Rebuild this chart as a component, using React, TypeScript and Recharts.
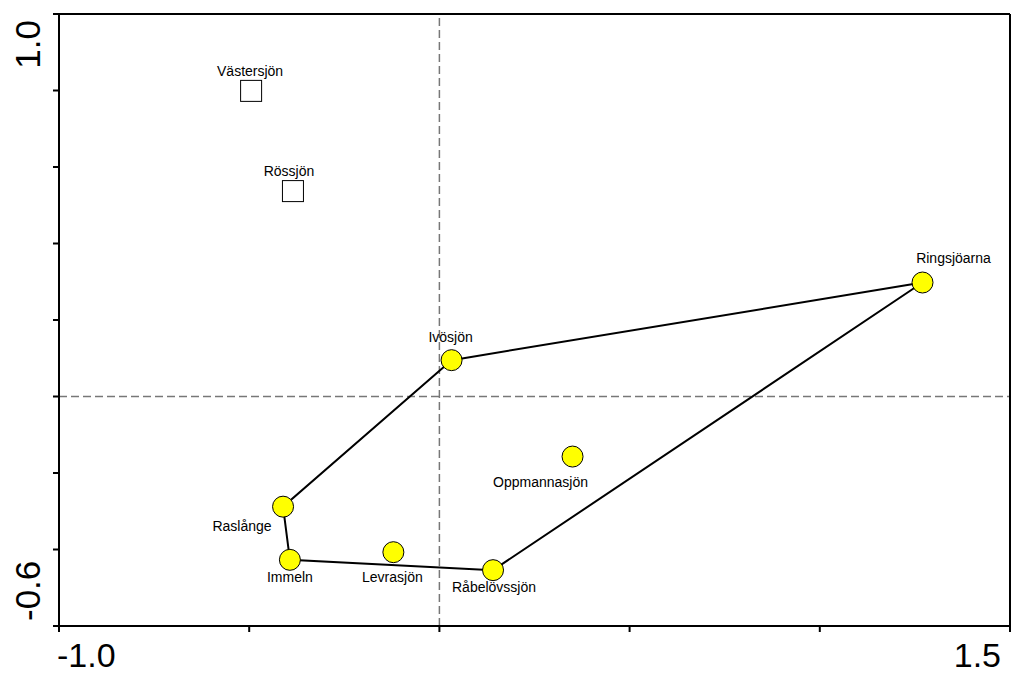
import React from "react";
import {
  ScatterChart,
  Scatter,
  XAxis,
  YAxis,
  ReferenceLine,
} from "recharts";

// lakes shown as yellow circles
const lakeNames = [
  "Ringsjöarna",
  "Ivösjön",
  "Oppmannasjön",
  "Raslånge",
  "Immeln",
  "Levrasjön",
  "Råbelövssjön",
];
const lakeX = [1.27, 0.032, 0.35, -0.411, -0.393, -0.121, 0.141];
const lakeY = [0.298, 0.095, -0.157, -0.288, -0.427, -0.407, -0.454];

// reference lakes shown as open squares
const refNames = ["Västersjön", "Rössjön"];
const refX = [-0.495, -0.385];
const refY = [0.799, 0.537];

// outline drawn around the circle group
const hullOrder = ["Ivösjön", "Ringsjöarna", "Råbelövssjön", "Immeln", "Raslånge", "Ivösjön"];

const xTicks = [-1.0, -0.5, 0, 0.5, 1.0, 1.5];
const yTicks = [-0.6, -0.4, -0.2, 0, 0.2, 0.4, 0.6, 0.8, 1.0];

const lakes = lakeNames.map((name, i) => ({ name, x: lakeX[i], y: lakeY[i] }));
const refs = refNames.map((name, i) => ({ name, x: refX[i], y: refY[i] }));
const hull = hullOrder.map((n) => lakes.find((l) => l.name === n)!);

const FONT = "'Liberation Sans', Arial, sans-serif";

// label placement relative to the marker centre
const labelOffset: Record<string, [number, number]> = {
  Ringsjöarna: [31, -20],
  Ivösjön: [-1, -18],
  Oppmannasjön: [-32, 30],
  Raslånge: [-41, 24],
  Immeln: [0, 22],
  Levrasjön: [-1, 30],
  Råbelövssjön: [1, 22],
  Västersjön: [-1, -15],
  Rössjön: [-4, -15],
};

const Label = ({ cx, cy, name }: { cx: number; cy: number; name: string }) => {
  const [dx, dy] = labelOffset[name] || [0, -15];
  return (
    <text x={cx + dx} y={cy + dy} textAnchor="middle" fontSize={14} fontFamily={FONT} fill="#000">
      {name}
    </text>
  );
};

const CircleShape = (props: any) => {
  const { cx, cy, payload } = props;
  return (
    <g>
      <circle cx={cx} cy={cy} r={10.5} fill="#ffff00" stroke="#000" strokeWidth={1} />
      <Label cx={cx} cy={cy} name={payload.name} />
    </g>
  );
};

const SquareShape = (props: any) => {
  const { cx, cy, payload } = props;
  return (
    <g>
      <rect x={cx - 10.5} y={cy - 10.5} width={21} height={21} fill="#fff" stroke="#000" strokeWidth={1} />
      <Label cx={cx} cy={cy} name={payload.name} />
    </g>
  );
};

const XTick = (props: any) => {
  const { x, payload } = props;
  if (payload.value === -1) {
    return (
      <text x={x - 2} y={667} textAnchor="start" fontSize={34} fontFamily={FONT} fill="#000">
        -1.0
      </text>
    );
  }
  if (payload.value === 1.5) {
    return (
      <text x={x} y={667} textAnchor="end" fontSize={34} fontFamily={FONT} fill="#000">
        1.5
      </text>
    );
  }
  return <g />;
};

const YTick = (props: any) => {
  const { y, payload } = props;
  if (payload.value === 1) {
    return (
      <text x={40} y={y + 6} transform={`rotate(-90, 40, ${y + 6})`} textAnchor="end" fontSize={35} fontFamily={FONT} fill="#000">
        1.0
      </text>
    );
  }
  if (payload.value === -0.6) {
    return (
      <text x={40} y={y - 5} transform={`rotate(-90, 40, ${y - 5})`} textAnchor="start" fontSize={35} fontFamily={FONT} fill="#000">
        -0.6
      </text>
    );
  }
  return <g />;
};

const App = () => {
  return (
    <div style={{ position: "absolute", left: 0, top: 0, background: "#fff" }}>
      <ScatterChart width={1011} height={673} margin={{ top: 14, right: 1, left: 0, bottom: 0 }}>
        <XAxis
          type="number"
          dataKey="x"
          domain={[-1, 1.5]}
          ticks={xTicks}
          allowDataOverflow
          height={47}
          tickSize={6}
          tick={<XTick />}
          stroke="#000"
          axisLine={{ stroke: "#000", strokeWidth: 2 }}
          tickLine={{ stroke: "#000", strokeWidth: 2 }}
        />
        <YAxis
          type="number"
          dataKey="y"
          domain={[-0.6, 1.0]}
          ticks={yTicks}
          allowDataOverflow
          width={59}
          tickSize={6}
          tick={<YTick />}
          stroke="#000"
          axisLine={{ stroke: "#000", strokeWidth: 2 }}
          tickLine={{ stroke: "#000", strokeWidth: 2 }}
        />
        <ReferenceLine x={0} stroke="#777" strokeWidth={1.5} strokeDasharray="8 4" />
        <ReferenceLine y={0} stroke="#777" strokeWidth={1.5} strokeDasharray="8 4" />
        <ReferenceLine y={1} stroke="#000" strokeWidth={2} />
        <ReferenceLine x={1.5} stroke="#000" strokeWidth={2} />
        <Scatter
          data={hull}
          line={{ stroke: "#000", strokeWidth: 2 }}
          shape={() => <g />}
          isAnimationActive={false}
        />
        <Scatter data={refs} shape={SquareShape} isAnimationActive={false} />
        <Scatter data={lakes} shape={CircleShape} isAnimationActive={false} />
      </ScatterChart>
    </div>
  );
};

export default App;
